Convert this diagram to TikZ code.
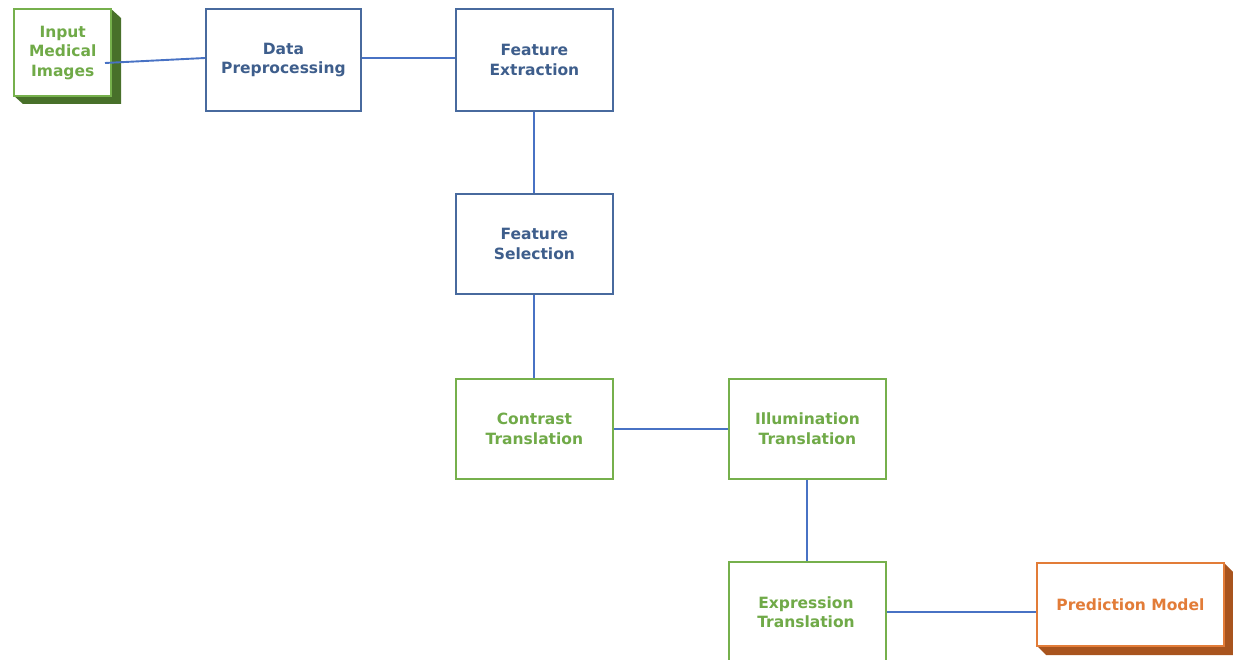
\documentclass[tikz,border=0pt]{standalone}
\usepackage{fontspec}
\setmainfont{DejaVu Sans}
\definecolor{bluebox}{RGB}{72,106,158}
\definecolor{bluetext}{RGB}{62,94,140}
\definecolor{greenbox}{RGB}{118,176,76}
\definecolor{greentext}{RGB}{112,170,72}
\definecolor{greenshadow}{RGB}{72,112,42}
\definecolor{orangebox}{RGB}{226,124,56}
\definecolor{orangeshadow}{RGB}{168,84,30}
\definecolor{linkblue}{RGB}{72,114,196}
\tikzset{
  x=1pt,y=-1pt,
  boxbase/.style={draw, fill=white, line width=1.8pt, inner sep=0pt, align=center,
    font=\bfseries\fontsize{15.5}{19.5}\selectfont},
  bluestep/.style={boxbase, draw=bluebox, text=bluetext},
  greenstep/.style={boxbase, draw=greenbox, text=greentext},
  orangestep/.style={boxbase, draw=orangebox, text=orangebox},
  link/.style={draw=linkblue, line width=1.9pt},
}
\begin{document}
\begin{tikzpicture}
\useasboundingbox (0,0) rectangle (1233,660);
% shadows
\fill[greenshadow] (110,8) -- (121,18) -- (121,104) -- (23,104) -- (13,95) -- (110,95) -- cycle;
\fill[orangeshadow] (1223,562) -- (1233,572) -- (1233,655) -- (1046,655) -- (1036,645) -- (1223,645) -- cycle;
% nodes
\node[greenstep, minimum width=97pt, minimum height=87pt, anchor=north west, line width=2.4pt] (inp) at (13,8) {Input\\Medical\\Images};
\node[bluestep, minimum width=155pt, minimum height=102pt, anchor=north west] (dp) at (205,8) {Data\\Preprocessing};
\node[bluestep, minimum width=157pt, minimum height=102pt, anchor=north west] (fe) at (455,8) {Feature\\Extraction};
\node[bluestep, minimum width=157pt, minimum height=100pt, anchor=north west] (fs) at (455,193) {Feature\\Selection};
\node[greenstep, minimum width=157pt, minimum height=100pt, anchor=north west] (ct) at (455,378) {Contrast\\Translation};
\node[greenstep, minimum width=157pt, minimum height=100pt, anchor=north west] (it) at (728,378) {Illumination\\Translation};
\node[greenstep, minimum width=157pt, minimum height=104pt, anchor=north west] (et) at (728,561) {};
\node[text=greentext, font=\bfseries\fontsize{15.5}{19.5}\selectfont, align=center] (etl) at (806,612) {Expression\\Translation};
\node[orangestep, minimum width=187pt, minimum height=83pt, anchor=north west] (pm) at (1036,562) {Prediction Model};
\useasboundingbox (0,0) rectangle (1233,660);
% connectors
\coordinate (instart) at (105,63);
\draw[link] (instart) -- (dp.west |- 0,58);
\draw[link] (dp.east |- 0,58) -- (fe.west |- 0,58);
\draw[link] (fe.south) -- (fs.north);
\draw[link] (fs.south) -- (ct.north);
\draw[link] (ct.east) -- (it.west);
\draw[link] (it.south) -- (et.north);
\draw[link] (et.east |- 0,612) -- (pm.west |- 0,612);
\end{tikzpicture}
\end{document}
